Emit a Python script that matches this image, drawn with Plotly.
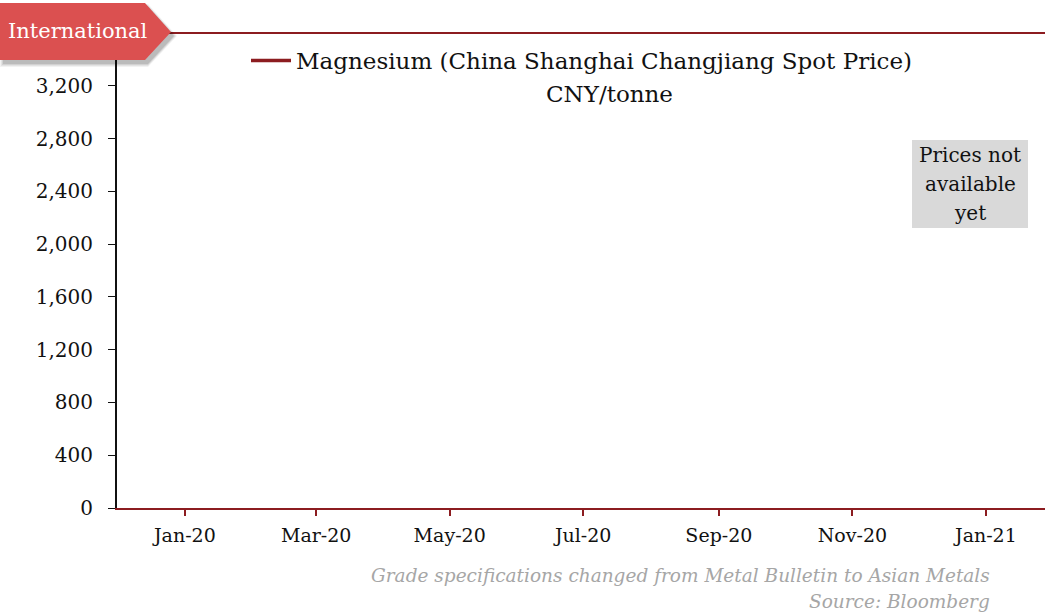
import plotly.graph_objects as go

# Magnesium spot price series (no published values for the period yet)
dates = ["2020-01-01", "2020-03-01", "2020-05-01", "2020-07-01",
         "2020-09-01", "2020-11-01", "2021-01-01"]
prices = [None, None, None, None, None, None, None]

series_name = "Magnesium (China Shanghai Changjiang Spot Price)"
unit_label = "CNY/tonne"
note_lines = ["Prices not", "available", "yet"]
y_ticks = [0, 400, 800, 1200, 1600, 2000, 2400, 2800, 3200]
y_tick_text = ["0", "400", "800", "1,200", "1,600", "2,000", "2,400", "2,800", "3,200"]

W, H = 1045, 613
L, R, T, B = 117, 0, 33, 105
PW, PH = W - L - R, H - T - B

DARK_RED = "#8c1c20"
TAG_RED = "#db5050"
SERIF = "DejaVu Serif"


def px(x):
    return (x - L) / PW


def py(y):
    return (H - B - y) / PH


def tag_path(dx, dy, grow=0):
    return (f"M {px(0 + dx - grow)},{py(3 + dy - grow)} "
            f"L {px(145 + dx)},{py(3 + dy - grow)} "
            f"L {px(171 + dx + grow)},{py(32 + dy)} "
            f"L {px(145 + dx)},{py(60 + dy + grow)} "
            f"L {px(0 + dx - grow)},{py(60 + dy + grow)} Z")


fig = go.Figure()
fig.add_trace(go.Scatter(
    x=dates, y=prices, mode="lines", name=series_name,
    line=dict(color=DARK_RED, width=3.5), connectgaps=False,
))

shapes = [
    # top rule
    dict(type="line", xref="paper", yref="paper", x0=px(160), x1=px(W),
         y0=py(33), y1=py(33), line=dict(color=DARK_RED, width=2), layer="above"),
]
# soft drop shadow under the tag
for grow, alpha in [(3, 0.05), (2, 0.06), (1, 0.08), (0, 0.10)]:
    shapes.append(dict(type="path", xref="paper", yref="paper",
                       path=tag_path(3, 4, grow),
                       fillcolor=f"rgba(0,0,0,{alpha})", line=dict(width=0), layer="above"))
shapes += [
    # tag
    dict(type="path", xref="paper", yref="paper", path=tag_path(0, 0),
         fillcolor=TAG_RED, line=dict(width=0), layer="above"),
    # note box
    dict(type="rect", xref="paper", yref="paper",
         x0=px(912), x1=px(1028), y0=py(140), y1=py(228),
         fillcolor="#d9d9d9", line=dict(width=0), layer="below"),
]

annotations = [
    dict(text="International", xref="paper", yref="paper", x=px(78), y=py(31),
         showarrow=False, font=dict(family=SERIF, size=21, color="white"),
         xanchor="center", yanchor="middle"),
    dict(text=unit_label, xref="paper", yref="paper", x=px(609), y=py(94),
         showarrow=False, font=dict(family=SERIF, size=23, color="#111111"),
         xanchor="center", yanchor="middle"),
    dict(text="<i>Grade specifications changed from Metal Bulletin to Asian Metals</i>",
         xref="paper", yref="paper", x=px(992), y=py(575), showarrow=False,
         font=dict(family=SERIF, size=18.5, color="#a6a6a6"),
         xanchor="right", yanchor="middle"),
    dict(text="<i>Source: Bloomberg</i>",
         xref="paper", yref="paper", x=px(992), y=py(601), showarrow=False,
         font=dict(family=SERIF, size=18.5, color="#a6a6a6"),
         xanchor="right", yanchor="middle"),
]
for i, line in enumerate(note_lines):
    annotations.append(dict(text=line, xref="paper", yref="paper",
                            x=px(970), y=py(155 + 29 * i), showarrow=False,
                            font=dict(family=SERIF, size=20, color="#111111"),
                            xanchor="center", yanchor="middle"))

fig.update_layout(
    width=W, height=H,
    margin=dict(l=L, r=R, t=T, b=B),
    paper_bgcolor="white", plot_bgcolor="white",
    font=dict(family=SERIF, color="#111111"),
    showlegend=True,
    legend=dict(x=px(246), y=py(39), xanchor="left", yanchor="top",
                bgcolor="rgba(0,0,0,0)", font=dict(family=SERIF, size=23, color="#111111"),
                itemwidth=40),
    shapes=shapes,
    annotations=annotations,
    xaxis=dict(
        type="date", range=["2019-12-01", "2021-01-28"],
        tick0="2020-01-01", dtick="M2", tickformat="%b-%y",
        showgrid=False, zeroline=False,
        showline=True, linecolor=DARK_RED, linewidth=2,
        ticks="outside", tickcolor=DARK_RED, ticklen=6, tickwidth=2,
        ticklabelstandoff=3,
        tickfont=dict(family=SERIF, size=19, color="#111111"),
    ),
    yaxis=dict(
        range=[0, 3600], tickvals=y_ticks, ticktext=y_tick_text,
        showgrid=False, zeroline=False,
        showline=True, linecolor="#111111", linewidth=2,
        ticks="outside", tickcolor="#111111", ticklen=7, tickwidth=1,
        ticklabelstandoff=11,
        tickfont=dict(family=SERIF, size=20, color="#111111"),
    ),
)

fig.write_html("out.html")
